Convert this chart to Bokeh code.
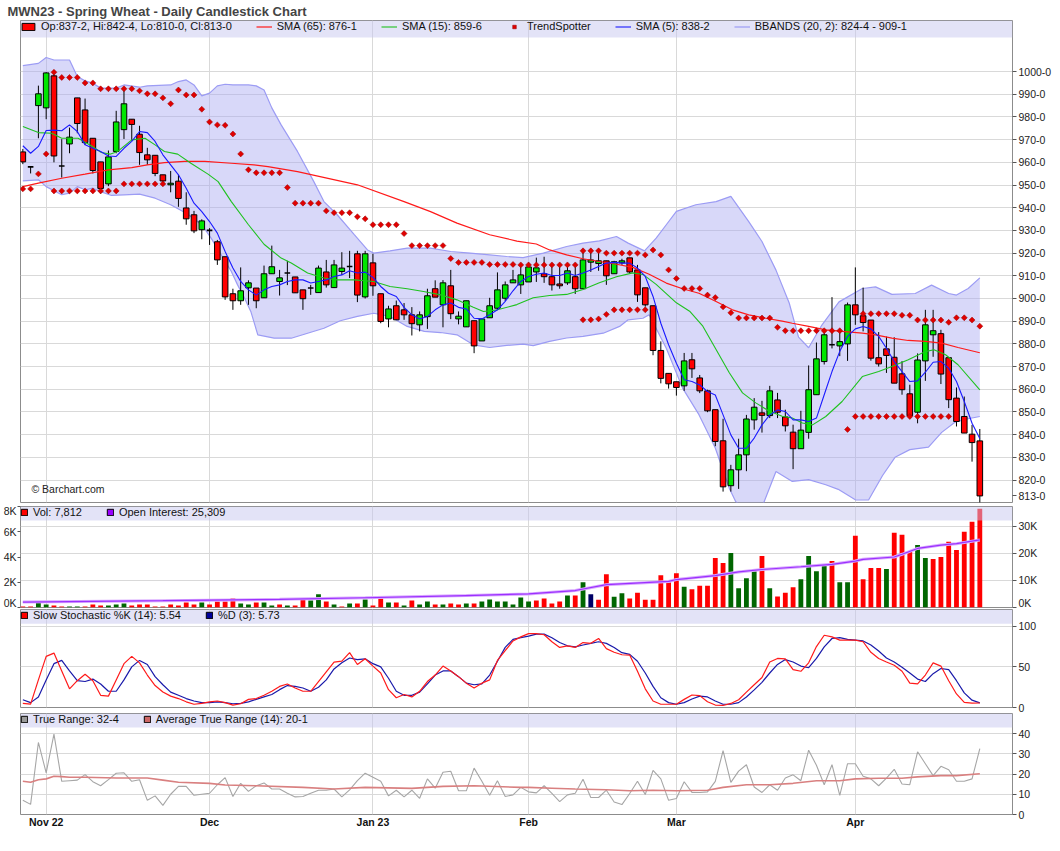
import math
from bokeh.plotting import figure
from bokeh.models import (Range1d, LinearAxis, FixedTicker, BoxAnnotation, Legend,
                          LegendItem, Label)
from bokeh.layouts import column
from bokeh.embed import file_html
from bokeh.resources import INLINE

# ---------------- data ----------------
title_text = "MWN23 - Spring Wheat - Daily Candlestick Chart"
month_idx = [3, 24, 45, 65, 84, 107]
month_labels = ["Nov 22", "Dec", "Jan 23", "Feb", "Mar", "Apr"]

opens = [964.6, 958.0, 985.0, 984.0, 998.1, 958.4, 968.1, 988.4, 983.1, 970.6,
         960.2, 950.5, 964.8, 974.4, 979.0, 972.4, 963.3, 963.1, 954.5, 950.1,
         951.7, 939.9, 936.9, 930.3, 930.0, 925.0, 918.4, 902.1, 899.0, 904.7,
         904.6, 900.3, 910.9, 907.5, 911.2, 909.5, 903.8, 904.6, 902.6, 911.7,
         904.8, 911.9, 914.1, 919.7, 900.7, 915.7, 902.1, 891.0, 896.8, 895.0,
         892.8, 888.4, 892.0, 904.3, 897.2, 905.6, 891.0, 887.5, 890.2, 881.3,
         891.5, 895.7, 900.1, 906.9, 906.0, 907.3, 911.7, 910.9, 909.6, 906.4,
         906.9, 909.6, 904.3, 916.0, 915.4, 916.6, 910.9, 915.7, 917.9, 912.6,
         904.7, 896.8, 877.1, 867.0, 863.3, 861.5, 873.0, 865.0, 859.3, 851.0,
         837.3, 817.5, 824.5, 831.1, 846.5, 849.6, 848.4, 855.3, 847.8, 841.1,
         833.8, 841.0, 857.6, 872.2, 879.6, 879.1, 880.0, 897.2, 892.4, 890.5,
         873.9, 877.8, 874.1, 866.8, 858.0, 849.9, 872.5, 884.0, 884.5, 873.9,
         856.1, 848.0, 840.2, 837.25]
highs = [965.9, 958.0, 993.8, 999.7, 1000.4, 970.2, 975.3, 988.4, 988.1, 970.6,
         960.2, 965.2, 982.7, 993.0, 979.0, 976.1, 966.4, 963.1, 954.5, 956.2,
         954.5, 946.8, 938.6, 934.9, 931.0, 925.8, 918.4, 904.3, 913.7, 908.0,
         904.6, 914.5, 923.3, 912.6, 916.6, 909.5, 903.8, 906.0, 914.5, 917.0,
         917.0, 920.4, 921.0, 921.0, 921.0, 919.7, 902.1, 896.8, 899.1, 898.0,
         896.2, 894.3, 904.3, 908.0, 908.1, 912.6, 894.3, 899.0, 890.2, 891.0,
         900.3, 911.5, 907.5, 912.6, 914.8, 915.8, 918.0, 918.4, 914.0, 914.0,
         915.0, 914.0, 921.4, 921.4, 921.7, 916.6, 916.6, 917.5, 917.9, 914.8,
         904.7, 896.8, 881.1, 867.0, 863.3, 876.0, 876.0, 866.3, 859.8, 851.0,
         847.0, 826.7, 838.2, 848.7, 856.1, 854.9, 861.5, 858.4, 851.0, 844.4,
         850.5, 870.5, 880.6, 885.8, 900.6, 885.3, 898.2, 913.7, 904.8, 890.5,
         885.2, 883.2, 882.9, 872.4, 862.0, 875.8, 895.0, 895.0, 886.2, 873.9,
         860.8, 856.8, 844.3, 842.5]
lows = [959.2, 955.1, 970.6, 979.0, 960.0, 953.3, 964.0, 972.8, 967.7, 955.1,
        946.3, 949.5, 964.0, 970.3, 969.5, 958.9, 958.9, 953.9, 950.7, 946.8,
        940.4, 932.5, 928.8, 926.1, 923.6, 914.8, 899.4, 895.0, 897.2, 897.2,
        895.7, 900.3, 910.9, 901.3, 905.9, 902.5, 895.0, 901.6, 902.6, 904.8,
        904.6, 910.4, 909.0, 898.4, 900.0, 901.2, 889.1, 887.3, 890.6, 890.6,
        883.7, 885.5, 886.6, 900.6, 887.3, 890.9, 888.6, 887.5, 875.9, 881.3,
        891.5, 895.0, 898.9, 906.9, 902.0, 907.3, 907.3, 906.9, 903.5, 904.3,
        906.0, 902.0, 904.3, 911.7, 912.2, 906.0, 910.9, 914.8, 910.9, 898.5,
        896.4, 875.0, 862.6, 860.3, 857.2, 859.3, 865.0, 858.3, 849.9, 834.9,
        814.9, 814.9, 816.1, 823.9, 842.2, 840.9, 847.3, 847.3, 841.4, 824.8,
        833.8, 838.2, 857.6, 870.9, 878.0, 874.6, 872.5, 888.4, 885.5, 872.6,
        870.0, 867.2, 862.7, 857.6, 847.3, 845.0, 863.7, 874.3, 862.3, 851.7,
        843.6, 840.7, 828.1, 810.0]
closes = [960.2, 958.0, 990.2, 999.4, 962.8, 958.4, 971.1, 977.1, 968.7, 956.4,
          948.5, 962.4, 977.8, 985.8, 976.7, 964.3, 961.1, 955.1, 951.8, 950.8,
          944.1, 935.1, 929.8, 934.2, 930.0, 917.0, 900.7, 899.0, 903.4, 906.9,
          899.0, 910.9, 914.0, 909.1, 911.2, 902.5, 899.9, 904.6, 913.4, 906.0,
          914.8, 913.4, 914.1, 901.5, 919.7, 905.6, 889.9, 895.4, 890.6, 892.8,
          888.9, 892.8, 901.2, 900.6, 906.9, 893.3, 892.2, 899.0, 879.1, 891.0,
          896.8, 903.8, 906.0, 908.2, 910.4, 913.9, 913.5, 909.6, 906.0, 905.6,
          912.2, 904.3, 917.0, 917.0, 916.6, 910.0, 916.2, 916.6, 911.7, 901.6,
          897.2, 877.1, 864.8, 862.4, 860.8, 872.5, 869.0, 859.3, 850.5, 837.0,
          817.0, 824.5, 831.1, 846.9, 852.1, 848.5, 859.3, 849.9, 843.9, 833.8,
          842.0, 859.8, 873.4, 884.0, 879.6, 881.0, 897.2, 892.8, 889.4, 873.7,
          871.2, 874.9, 862.7, 859.8, 848.3, 872.9, 888.4, 885.8, 866.7, 855.4,
          845.8, 840.7, 836.5, 813.0]

sma5 = [967.3, 964.0, 967.0, 974.0, 974.2, 973.9, 976.5, 973.6, 967.7, 966.2,
        964.8, 962.8, 962.6, 966.2, 969.2, 973.6, 973.1, 969.2, 963.3, 958.9,
        954.5, 948.6, 942.0, 938.3, 933.9, 928.8, 920.7, 913.4, 907.5, 903.8,
        901.5, 903.8, 905.3, 906.0, 907.5, 908.2, 908.2, 906.8, 907.5, 908.2,
        909.7, 910.4, 912.2, 911.2, 911.6, 909.3, 905.3, 902.3, 900.9, 896.1,
        892.8, 891.0, 892.1, 895.0, 897.2, 898.0, 896.1, 895.4, 891.3, 891.0,
        892.8, 895.0, 898.7, 903.4, 907.5, 909.7, 910.7, 911.2, 910.1, 910.1,
        911.2, 910.1, 911.2, 912.6, 914.1, 915.6, 915.9, 915.6, 915.6, 913.4,
        909.7, 900.9, 889.1, 879.6, 871.5, 864.2, 863.4, 861.9, 859.0, 857.5,
        848.7, 839.9, 834.0, 834.0, 838.5, 844.3, 848.7, 850.9, 850.2, 846.5,
        846.5, 845.8, 847.3, 857.6, 867.8, 876.7, 883.3, 886.6, 887.7, 886.6,
        883.3, 878.1, 872.2, 867.8, 863.4, 863.7, 867.5, 871.9, 872.2, 869.3,
        863.4, 854.6, 845.0, 838.25]

sma15_x = [0, 2, 3.7, 5, 7.1, 8.8, 10.1, 11.2, 12.2, 14, 15.7, 17, 18.2, 19.9, 21.6,
           23.8, 25.1, 26.8, 29, 31, 33.2, 34.5, 36.6, 38.7, 40.4, 42.6, 45.1, 47.2,
           49.4, 51.5, 53.7, 55.8, 57.9, 59.2, 61, 63.5, 65.6, 67.7, 69.9, 72, 74.1,
           76.3, 78.4, 79.7, 81.4, 84, 85.7, 87.4, 89.1, 90.8, 92.5, 94.2, 95.9, 97.6,
           98.9, 100.2, 101.5, 103.2, 105.3, 107.9, 110, 111.7, 113.8, 116, 117.1,
           118.6, 120.2, 123]
sma15_y = [975.8, 973.1, 972.8, 970.6, 970.6, 967.3, 964.3, 963.6, 964.8, 969.9, 970.6,
           967.7, 964.8, 963.6, 959.6, 954.8, 951.5, 942.7, 932.5, 923.9, 917.8, 915.6,
           911.2, 909.0, 908.2, 908.2, 907.5, 905.3, 904.3, 903.1, 901.6, 899.4, 896.1,
           894.3, 895.0, 897.3, 900.3, 901.3, 901.8, 904.0, 906.9, 909.6, 911.3, 910.6,
           906.2, 898.1, 894.4, 887.8, 877.5, 867.3, 858.4, 854.0, 850.4, 848.1, 847.3,
           845.1, 844.3, 848.0, 854.6, 865.6, 867.8, 870.0, 873.0, 876.6, 877.4, 875.2,
           870.8, 859.75]

sma65_x = [0, 2, 5, 8, 11, 14, 16, 18.2, 20.8, 23.4, 26.8, 29.7, 31.5, 35.3, 43, 49,
           52.4, 55.8, 60, 63.5, 66, 67.7, 69.9, 72, 74.1, 76.3, 78.4, 80.5, 82.7, 84.8,
           86.9, 89.1, 91.2, 93.3, 95.5, 97.6, 98.9, 101, 103.2, 105.3, 107.9, 109.6,
           111.7, 113.8, 116, 118.1, 120.2, 123]
sma65_y = [949.3, 950.8, 953.0, 954.8, 956.7, 957.7, 958.9, 959.9, 960.4, 960.4, 959.6,
           958.9, 958.1, 955.9, 950.1, 942.7, 938.3, 933.2, 928.1, 925.3, 924.0, 921.4,
           919.2, 917.5, 916.3, 915.1, 913.7, 910.7, 906.8, 904.3, 902.3, 898.7, 895.0,
           892.8, 891.3, 890.0, 889.1, 887.7, 886.2, 885.5, 884.7, 884.0, 882.5, 881.5,
           881.1, 880.3, 878.4, 876.1]

bb_up_x = [0, 2, 3, 4, 6, 7, 8, 9, 10, 12, 13, 15, 16, 19, 20, 21, 22, 23, 24, 25, 26,
           27, 29, 30, 31, 32, 33.2, 35.3, 37.4, 38.7, 40.4, 42.6, 44.3, 45.1, 47.2, 49.4,
           52.4, 55, 57.5, 60, 62.2, 64.3, 66.9, 69.9, 72, 74.1, 76.3, 77.8, 79.9, 81.4,
           82.7, 84, 86.5, 89.1, 91, 93.3, 95, 96.8, 98.5, 99.7, 101, 102.7, 104.9, 107.9,
           109.6, 111.7, 114.7, 116.8, 119, 120, 121.5, 123]
bb_up_y = [1002.6, 1003.6, 1006.2, 1005.1, 1005.1, 997.8, 995.9, 994.9, 992.7, 992.7,
           994.1, 993.1, 993.7, 994.1, 995.6, 996.3, 994.1, 989.3, 990.5, 993.7, 994.4,
           994.1, 994.1, 993.7, 991.9, 984.0, 976.5, 964.8, 951.5, 942.7, 936.9, 928.1,
           921.4, 920.0, 921.0, 922.2, 922.2, 920.7, 920.0, 919.2, 918.5, 918.0, 920.0,
           922.9, 924.4, 925.4, 927.3, 924.4, 921.0, 926.6, 932.5, 938.4, 941.3, 942.7,
           945.0, 933.9, 925.1, 912.5, 898.0, 883.0, 878.3, 888.3, 898.5, 904.4, 905.1,
           901.8, 902.2, 905.9, 902.2, 901.5, 904.4, 909.1]
bb_lo_x = [0, 2, 3, 5, 6, 7, 8, 9, 10, 11.4, 13, 15, 17, 19, 21, 23, 24.2, 25.5, 26.8,
           27.6, 28.5, 29.3, 30.2, 32.3, 34.5, 36.6, 38.7, 40.8, 43, 45.1, 47.2, 49.4,
           51.6, 53.7, 55.8, 57.9, 60, 62.2, 64.3, 65.6, 67.7, 69.9, 72, 74.6, 76.7, 77.8,
           79.7, 80.5, 82.7, 84.8, 86.9, 89, 90.8, 91.6, 93, 95, 96.8, 98.9, 101, 103.2,
           104.8, 107, 108.7, 110.5, 112.1, 114, 116.4, 118.1, 119.8, 121.5, 123]
bb_lo_y = [951.8, 952.3, 949.3, 945.7, 946.4, 949.3, 947.9, 948.6, 947.1, 945.4, 945.7,
           946.0, 944.2, 941.3, 937.6, 932.5, 926.6, 919.2, 911.9, 906.0, 900.1, 894.3,
           884.0, 882.5, 882.5, 884.7, 886.9, 890.2, 892.1, 893.5, 892.1, 887.7, 885.5,
           885.0, 884.0, 879.6, 878.4, 879.3, 879.9, 879.2, 881.1, 882.6, 883.3, 884.7,
           887.7, 890.6, 891.3, 892.8, 878.1, 860.5, 848.8, 834.1, 816.4, 810.6, 806.0,
           808.0, 823.8, 819.4, 820.2, 817.9, 815.9, 811.3, 811.2, 822.0, 830.0, 833.4,
           834.5, 841.0, 845.5, 847.0, 848.0]

ts_x = [0, 1, 2, 3,
        4, 5, 6, 7, 8, 9, 10, 11, 12, 13, 14, 15, 16, 17, 18, 19, 20, 21, 22, 23, 24,
        25, 26, 27, 28, 29, 30, 31, 32, 33, 34, 35, 36, 37, 38, 39, 40, 41, 42, 43, 44,
        45, 46, 47, 48, 49, 50, 51, 52, 53, 54, 55, 56, 57, 58, 59, 60, 61, 62, 63, 64,
        65, 66, 67, 68, 69, 70, 71, 72, 73, 74, 75, 76, 77, 78, 79, 80, 81, 82, 83, 84,
        85, 86, 87, 88, 89, 90, 91, 92, 93, 94, 95, 96, 97, 98, 99, 100, 101, 102, 103,
        104, 105,
        108, 109, 110, 111, 112, 113, 114, 115, 116, 117, 118, 119, 120, 121, 122, 123,
        4, 5, 6, 7, 8, 9, 10, 11, 12, 13, 14, 15, 16, 17, 18,
        72, 73, 74, 75, 76, 77, 78, 79, 80,
        106, 107, 108, 109, 110, 111, 112, 113, 114, 115, 116, 117, 118, 119]
ts_y = [948.3, 948.3, 954.9, 963.7,
        999.7, 997.4, 997.4, 997.4, 995.0, 995.0, 992.4, 992.4, 992.4, 992.4, 992.4,
        991.5, 990.2, 990.2, 988.4, 985.8, 991.9, 989.7, 989.7, 983.4, 977.8, 976.5,
        976.3, 972.5, 963.7, 956.7, 955.4, 955.4, 955.4, 955.4, 948.9, 942.0, 942.0,
        942.0, 942.0, 938.6, 937.8, 937.8, 937.8, 936.0, 935.1, 932.5, 932.5, 932.5,
        932.5, 928.6, 923.3, 923.3, 923.3, 923.3, 923.3, 917.6, 915.9, 915.9, 915.9,
        915.9, 915.0, 915.0, 915.0, 915.0, 914.8, 914.8, 914.8, 914.8, 914.8, 914.8,
        914.8, 914.8, 921.0, 921.0, 921.0, 920.0, 920.0, 920.0, 920.0, 920.0, 919.2,
        921.4, 919.2, 912.6, 908.8, 904.4, 904.4, 904.4, 901.5, 900.4, 896.3, 893.7,
        891.4, 891.4, 891.4, 891.4, 891.4, 887.3, 885.8, 885.8, 885.8, 885.8, 885.8,
        885.8, 885.8, 885.8,
        893.3, 893.3, 893.3, 893.3, 893.3, 892.6, 892.6, 890.5, 890.5, 890.5, 890.5,
        889.5, 891.5, 891.5, 890.5, 887.8,
        947.4, 947.4, 947.4, 947.4, 947.4, 947.4, 947.4, 947.4, 947.4, 950.5, 950.5,
        950.5, 950.5, 950.5, 950.5,
        890.6, 890.6, 891.0, 893.0, 895.0, 895.0, 895.0, 895.0, 895.0,
        842.3, 848.0, 848.0, 848.0, 848.0, 848.0, 848.0, 848.0, 848.0, 848.0, 848.0,
        848.0, 848.0, 848.0]

# volume in thousands, colour code per bar: r = down, g = up, n = unchanged
vol_k = [0.08, 0.08, 0.48, 0.24, 0.16, 0.08, 0.08, 0.08, 0.08, 0.24,
         0.16, 0.16, 0.24, 0.32, 0.16, 0.24, 0.24, 0.08, 0.08, 0.24,
         0.16, 0.40, 0.24, 0.40, 0.24, 0.48, 0.48, 0.72, 0.32, 0.24,
         0.40, 0.40, 0.16, 0.24, 0.16, 0.16, 0.64, 0.56, 1.04, 0.48,
         0.24, 0.08, 0.32, 0.32, 0.64, 0.16, 0.72, 0.40, 0.40, 0.16,
         0.56, 0.24, 0.48, 0.24, 0.24, 0.32, 0.24, 0.32, 0.32, 0.48,
         0.64, 0.48, 0.48, 0.24, 0.80, 0.48, 0.56, 0.72, 0.32, 0.48,
         0.96, 0.96, 2.00, 1.04, 0.61, 2.64, 0.85, 1.12, 0.72, 1.17,
         0.61, 0.61, 2.56, 2.00, 2.72, 1.65, 1.44, 1.73, 1.73, 3.92,
         3.52, 4.32, 1.52, 2.32, 2.88, 4.08, 1.52, 0.88, 1.17, 1.60,
         2.24, 4.08, 2.88, 3.28, 3.68, 2.00, 2.00, 5.68, 2.24, 3.12,
         3.12, 3.04, 5.92, 5.76, 4.40, 4.96, 3.92, 3.84, 4.00, 5.20,
         4.56, 6.00, 6.80, 7.812]
vol_dir = ("rrggrrggrr" "rgggrrrrrr" "rrrgrrrrgg" "rggrgrrggr" "grgrgrrgrg"
           "rggrgrrgrg" "ggggg" "grrrrgrgnr" "rggrrrrrrr" "grrrrrgggg"
           "rgrrrggggr" "ggrrrrgrrr" "ggrrrrrrr")
oi_x = [0, 18, 33, 44, 57, 65, 71, 75, 83, 84, 89, 92, 95, 100, 104, 107, 108, 112,
        113, 115, 118, 120, 123]
oi_k = [2.0, 2.5, 3.0, 3.6, 4.4, 5.0, 6.25, 8.4, 9.6, 10.3, 11.75, 13.1, 14.0, 15.0,
        15.9, 17.1, 17.75, 18.6, 19.6, 21.75, 23.0, 23.5, 24.9]

stoch_k = [5, 4.2, 34, 63, 67, 45, 23, 33, 41, 33, 15, 14, 34, 54, 63, 55, 40, 27, 19, 14,
           11, 7, 4, 5, 7, 8, 6, 3, 4.6, 10, 11, 15, 20, 26, 29, 24, 20, 20, 32, 44,
           56, 57, 67.5, 53, 60, 51, 42.5, 22, 12, 16, 13, 20, 32, 40, 51, 45, 38, 30, 24, 30,
           34, 58, 70, 82, 87, 91, 91, 89.6, 81, 74, 76, 74, 80, 79, 85, 72.5, 68, 65, 64.6,
           44.6, 23, 8, 4, 4, 4, 10, 15.4, 14.6, 7, 3, 2.5, 5, 9.6, 19, 28, 37, 56, 60.4,
           60, 46.7, 44.6, 55, 75, 89, 87, 83, 83, 83, 81, 68, 60.4, 56, 52, 44.6, 30, 29,
           40, 55, 51, 33, 16.7, 6.25, 5.4, 5.54]
stoch_d = [9.6, 6, 13, 34, 54, 58, 45, 33, 32, 35, 29, 20, 20, 34, 50, 58, 53, 38, 28, 19,
           15, 11, 8, 6, 6, 7, 6, 4.6, 5, 7, 10, 13, 16, 22, 27, 26, 24, 20, 25, 34,
           47.5, 55, 61, 59, 60, 54, 50, 36, 20, 15, 15, 19, 29, 40, 45, 45, 38, 30, 28, 29,
           40, 57, 74, 84, 86, 88, 90.4, 90.4, 86, 80, 76, 74.6, 77, 79, 81, 79, 74, 67.5,
           65.4, 57, 42.5, 26, 12, 6, 4, 6, 10.4, 14, 13, 8, 4, 4, 6, 13, 21.7, 31, 42.5,
           53, 59, 56, 51, 49, 60.4, 74.6, 85, 86, 84, 83, 82, 77, 69.6, 61, 56, 49.6, 42.5,
           35, 32, 41.7, 48, 46.7, 33, 18, 9, 5.73]

true_range = [7, 5, 35.6, 20.6, 39.7, 16.4, 16.7, 17, 19.7, 16.2,
              14.2, 17.2, 20.4, 20.6, 16.4, 17.2, 7, 9.2, 4.5, 10,
              13.9, 13.9, 9.5, 10, 10.5, 14.7, 18.2, 8.9, 15.4, 11.4,
              14.2, 15.6, 12.6, 12.6, 10.5, 8.7, 8.9, 10.5, 12, 12,
              12.6, 8.7, 12.2, 16.7, 20.4, 18.4, 16.4, 9.2, 12, 8.7,
              12, 8, 17.6, 13, 20.9, 21.4, 11.7, 11.7, 22.9, 16.4,
              9.5, 16.7, 8.9, 9.7, 13.4, 11.2, 10.7, 14.2, 10.4, 6.4,
              9.7, 10.5, 17.4, 8.4, 8.4, 12, 6.2, 4.9, 10.4, 16.4,
              9.9, 21.8, 17.6, 7, 7.9, 16.2, 10.9, 10.9, 11.2, 16.4,
              31.5, 15.9, 21.4, 24.6, 13.6, 10.9, 14.7, 12, 18, 19.6,
              16.7, 31.8, 24.3, 14.7, 24.6, 9.5, 25.1, 25.1, 18.9, 17.6,
              14.2, 18, 22.3, 15.1, 14.7, 31, 25.1, 19.2, 23.8, 22.1,
              16.4, 16.4, 17.6, 32.5]
atr_x = [0, 1, 2, 3, 4, 5, 6, 8, 12, 16, 18, 20, 24, 26, 30, 36, 40, 44, 50, 54, 58, 64,
         65, 68, 71, 75, 78, 81, 84, 88, 90, 93, 96, 99, 102, 105, 107, 110, 113, 115,
         118, 120, 123]
atr_y = [16.4, 15.9, 17.2, 17.6, 18.9, 18.7, 18.4, 18.4, 18.0, 18.0, 17.0, 15.9, 15.4,
         14.6, 14.2, 13.4, 12.6, 13.4, 12.9, 13.9, 14.2, 13.4, 13.4, 13.0, 12.6, 12.2,
         11.7, 12.0, 11.7, 12.0, 13.4, 14.7, 14.7, 15.4, 16.7, 16.7, 17.6, 17.9, 17.9,
         18.6, 19.2, 19.2, 20.1]

price_ticks = list(range(820, 1001, 10))
price_tick_labels = [f"{t}-0" for t in price_ticks]
last_tick = 813
last_label = "813-0"
vol_ticks = [0, 2, 4, 6, 8]
vol_tick_labels = ["0K", "2K", "4K", "6K", "8K"]
oi_ticks = [0, 10, 20, 30]
oi_tick_labels = ["0K", "10K", "20K", "30K"]
stoch_ticks = [0, 50, 100]
tr_ticks = [0, 10, 20, 30, 40]

price_legend = ["Op:837-2, Hi:842-4, Lo:810-0, Cl:813-0", "SMA (65): 876-1",
                "SMA (15): 859-6", "TrendSpotter", "SMA (5): 838-2",
                "BBANDS (20, 2): 824-4 - 909-1"]
vol_legend = ["Vol: 7,812", "Open Interest: 25,309"]
stoch_legend = ["Slow Stochastic %K (14): 5.54", "%D (3): 5.73"]
tr_legend = ["True Range: 32-4", "Average True Range (14): 20-1"]
credit = "\u00a9 Barchart.com"

# ---------------- styling helpers ----------------
FONT = "Liberation Sans"
FW = 992
ML, MR = 17, 43
XR = Range1d(-0.3, 127.2)
STRIP = "#C8C8F0"
idx = list(range(len(closes)))


def make_fig(frame_h, yr, top, bottom, xaxis=False, title=None):
    kw = dict(frame_width=FW, frame_height=frame_h, x_range=XR, y_range=yr,
              x_axis_location="below" if xaxis else None, y_axis_location="right",
              output_backend="svg", toolbar_location=None, tools="",
              min_border_left=ML, min_border_right=MR, min_border_top=top,
              min_border_bottom=bottom, background_fill_color="white",
              border_fill_color="white")
    if title:
        kw["title"] = title
    p = figure(**kw)
    p.outline_line_color = "#8C8C8C"
    p.xgrid.ticker = FixedTicker(ticks=month_idx)
    p.grid.grid_line_color = "#D9D9D9"
    return p


def style_axis(ax, ticks, labels=None):
    ax.ticker = FixedTicker(ticks=ticks)
    if labels:
        ax.major_label_overrides = dict(zip(ticks, labels))
    ax.axis_line_color = None
    ax.major_tick_out = 4
    ax.major_tick_in = 0
    ax.minor_tick_out = 0
    ax.minor_tick_in = 0
    ax.major_tick_line_color = "#555555"
    ax.major_label_text_font = FONT
    ax.major_label_text_font_size = "10.5px"
    ax.major_label_text_color = "#222222"
    ax.major_label_standoff = 2


def make_legend(items, gw, gh, pad):
    return Legend(items=items, location="top_left", orientation="horizontal",
                  background_fill_alpha=0, border_line_color=None,
                  label_text_font=FONT, label_text_font_size="11px",
                  label_text_color="#111111", glyph_width=gw, glyph_height=gh,
                  label_height=12, label_standoff=5, spacing=24, padding=pad,
                  margin=0, inactive_fill_alpha=0)


# ---------------- price panel ----------------
PR = Range1d(810.1, 1022.5)
p1 = make_fig(482, PR, 0, 2, title=title_text)
p1.title.text_font = FONT
p1.title.text_font_size = "13px"
p1.title.text_font_style = "bold"
p1.title.align = "left"
p1.title.offset = -13
p1.title.standoff = 3
p1.ygrid.ticker = FixedTicker(ticks=price_ticks)
style_axis(p1.yaxis[0], price_ticks + [last_tick], price_tick_labels + [last_label])

band_x = bb_up_x + bb_lo_x[::-1]
band_y = bb_up_y + bb_lo_y[::-1]
p1.patch(band_x, band_y, fill_color="#A8A8F2", fill_alpha=0.45, line_color=None)
r_bb = p1.line(bb_up_x, bb_up_y, line_color="#9C9CF4", line_width=1.2)
p1.line(bb_lo_x, bb_lo_y, line_color="#9C9CF4", line_width=1.2)

p1.segment(x0=idx, y0=lows, x1=idx, y1=highs, line_color="black", line_width=1)
dn = [i for i in idx if closes[i] < opens[i]]
up = [i for i in idx if closes[i] > opens[i]]
dj = [i for i in idx if closes[i] == opens[i]]
BW = 0.72
r_dn = p1.vbar(x=dn, top=[opens[i] for i in dn], bottom=[closes[i] for i in dn],
               width=BW, fill_color="#FF0000", line_color="black", line_width=1)
p1.vbar(x=up, top=[closes[i] for i in up], bottom=[opens[i] for i in up],
        width=BW, fill_color="#00E600", line_color="black", line_width=1)
p1.segment(x0=[i - BW / 2 for i in dj], y0=[opens[i] for i in dj],
           x1=[i + BW / 2 for i in dj], y1=[closes[i] for i in dj],
           line_color="black", line_width=1.6)

r65 = p1.line(sma65_x, sma65_y, line_color="#FF1A1A", line_width=1.2)
r15 = p1.line(sma15_x, sma15_y, line_color="#1FC21F", line_width=1.1)
r5 = p1.line(idx, sma5, line_color="#1A1AFF", line_width=1.1)
r_ts = p1.scatter(ts_x, ts_y, marker="square", angle=math.pi / 4, size=4.2,
                  fill_color="#E00000", line_color="#990000", line_width=0.5)

p1.add_layout(BoxAnnotation(top=1022.5, bottom=1015.0, fill_color=STRIP,
                            fill_alpha=0.5, line_color=None))
p1.add_layout(make_legend([
    LegendItem(label=price_legend[0], renderers=[r_dn]),
    LegendItem(label=price_legend[1], renderers=[r65]),
    LegendItem(label=price_legend[2], renderers=[r15]),
    LegendItem(label=price_legend[3], renderers=[r_ts]),
    LegendItem(label=price_legend[4], renderers=[r5]),
    LegendItem(label=price_legend[5], renderers=[r_bb]),
], 16, 9, 3))
p1.add_layout(Label(x=1.1, y=815.9, text=credit, text_font=FONT,
                    text_font_size="10.5px", text_color="#222222",
                    text_baseline="middle"))

# ---------------- volume / open interest panel ----------------
p2 = make_fig(101, Range1d(0, 37.2), 2, 1)
p2.extra_y_ranges = {"vol": Range1d(0, 8)}
p2.ygrid.ticker = FixedTicker(ticks=oi_ticks)
style_axis(p2.yaxis[0], oi_ticks, oi_tick_labels)
lax = LinearAxis(y_range_name="vol")
p2.add_layout(lax, "left")
style_axis(lax, vol_ticks, vol_tick_labels)
lax.major_label_standoff = 1
lax.major_tick_out = 3
cmap = {"r": "#FF0000", "g": "#006600", "n": "#000066"}
vol_colors = [cmap[c] for c in vol_dir]
p2.vbar(x=idx, top=vol_k, width=0.62, fill_color=vol_colors, line_color=None,
        y_range_name="vol")
p2.line(oi_x, oi_k, line_color="#D9A8FF", line_width=3)
p2.line(oi_x, oi_k, line_color="#9B30FF", line_width=1.2)
# legend swatches (hidden renderers of the same data)
lg_vol = p2.vbar(x=idx, top=vol_k, width=0.5, fill_color="#FF0000",
                 line_color="black", y_range_name="vol", visible=False)
lg_oi = p2.vbar(x=oi_x, top=oi_k, width=0.5, fill_color="#9900FF",
                line_color="black", visible=False)
p2.add_layout(BoxAnnotation(top=37.2, bottom=37.2 - 5.2, fill_color=STRIP,
                            fill_alpha=0.5, line_color=None))
p2.add_layout(make_legend([LegendItem(label=vol_legend[0], renderers=[lg_vol]),
                           LegendItem(label=vol_legend[1], renderers=[lg_oi])],
                          8, 8, 1))

# ---------------- stochastic panel ----------------
ST_TOP = 120.7
p3 = make_fig(98, Range1d(0, ST_TOP), 1, 6)
p3.ygrid.ticker = FixedTicker(ticks=stoch_ticks)
style_axis(p3.yaxis[0], stoch_ticks)
p3.line(idx, stoch_d, line_color="#1A1AAA", line_width=1.2)
p3.line(idx, stoch_k, line_color="#FF1A1A", line_width=1.2)
lg_k = p3.vbar(x=idx, top=stoch_k, width=0.5, fill_color="#FF0000",
               line_color="black", visible=False)
lg_d = p3.vbar(x=idx, top=stoch_d, width=0.5, fill_color="#000099",
               line_color="black", visible=False)
p3.add_layout(BoxAnnotation(top=ST_TOP, bottom=ST_TOP - 17.5, fill_color=STRIP,
                            fill_alpha=0.5, line_color=None))
p3.add_layout(make_legend([LegendItem(label=stoch_legend[0], renderers=[lg_k]),
                           LegendItem(label=stoch_legend[1], renderers=[lg_d])],
                          8, 8, 1))

# ---------------- true range panel ----------------
p4 = make_fig(101, Range1d(0, 49.9), 0, 0, xaxis=True)
p4.ygrid.ticker = FixedTicker(ticks=tr_ticks)
style_axis(p4.yaxis[0], tr_ticks)
xax = p4.xaxis[0]
xax.ticker = FixedTicker(ticks=month_idx)
xax.major_label_overrides = dict(zip(month_idx, month_labels))
xax.axis_line_color = None
xax.major_tick_out = 0
xax.major_tick_in = 0
xax.minor_tick_out = 0
xax.minor_tick_in = 0
xax.major_label_text_font = FONT
xax.major_label_text_font_size = "10.5px"
xax.major_label_text_font_style = "bold"
xax.major_label_text_color = "#111111"
xax.major_label_standoff = 1
p4.line(idx, true_range, line_color="#A6A6A6", line_width=1.1)
p4.line(atr_x, atr_y, line_color="#D98080", line_width=1.6)
lg_tr = p4.vbar(x=idx, top=true_range, width=0.5, fill_color="#999999",
                line_color="black", visible=False)
lg_atr = p4.vbar(x=atr_x, top=atr_y, width=0.5, fill_color="#CD6666",
                 line_color="black", visible=False)
p4.add_layout(BoxAnnotation(top=49.9, bottom=49.9 - 6.9, fill_color=STRIP,
                            fill_alpha=0.5, line_color=None))
p4.add_layout(make_legend([LegendItem(label=tr_legend[0], renderers=[lg_tr]),
                           LegendItem(label=tr_legend[1], renderers=[lg_atr])],
                          8, 8, 1))

page = column(p1, p2, p3, p4, spacing=0)
open("out.html", "w").write(file_html(page, INLINE, title=title_text))
